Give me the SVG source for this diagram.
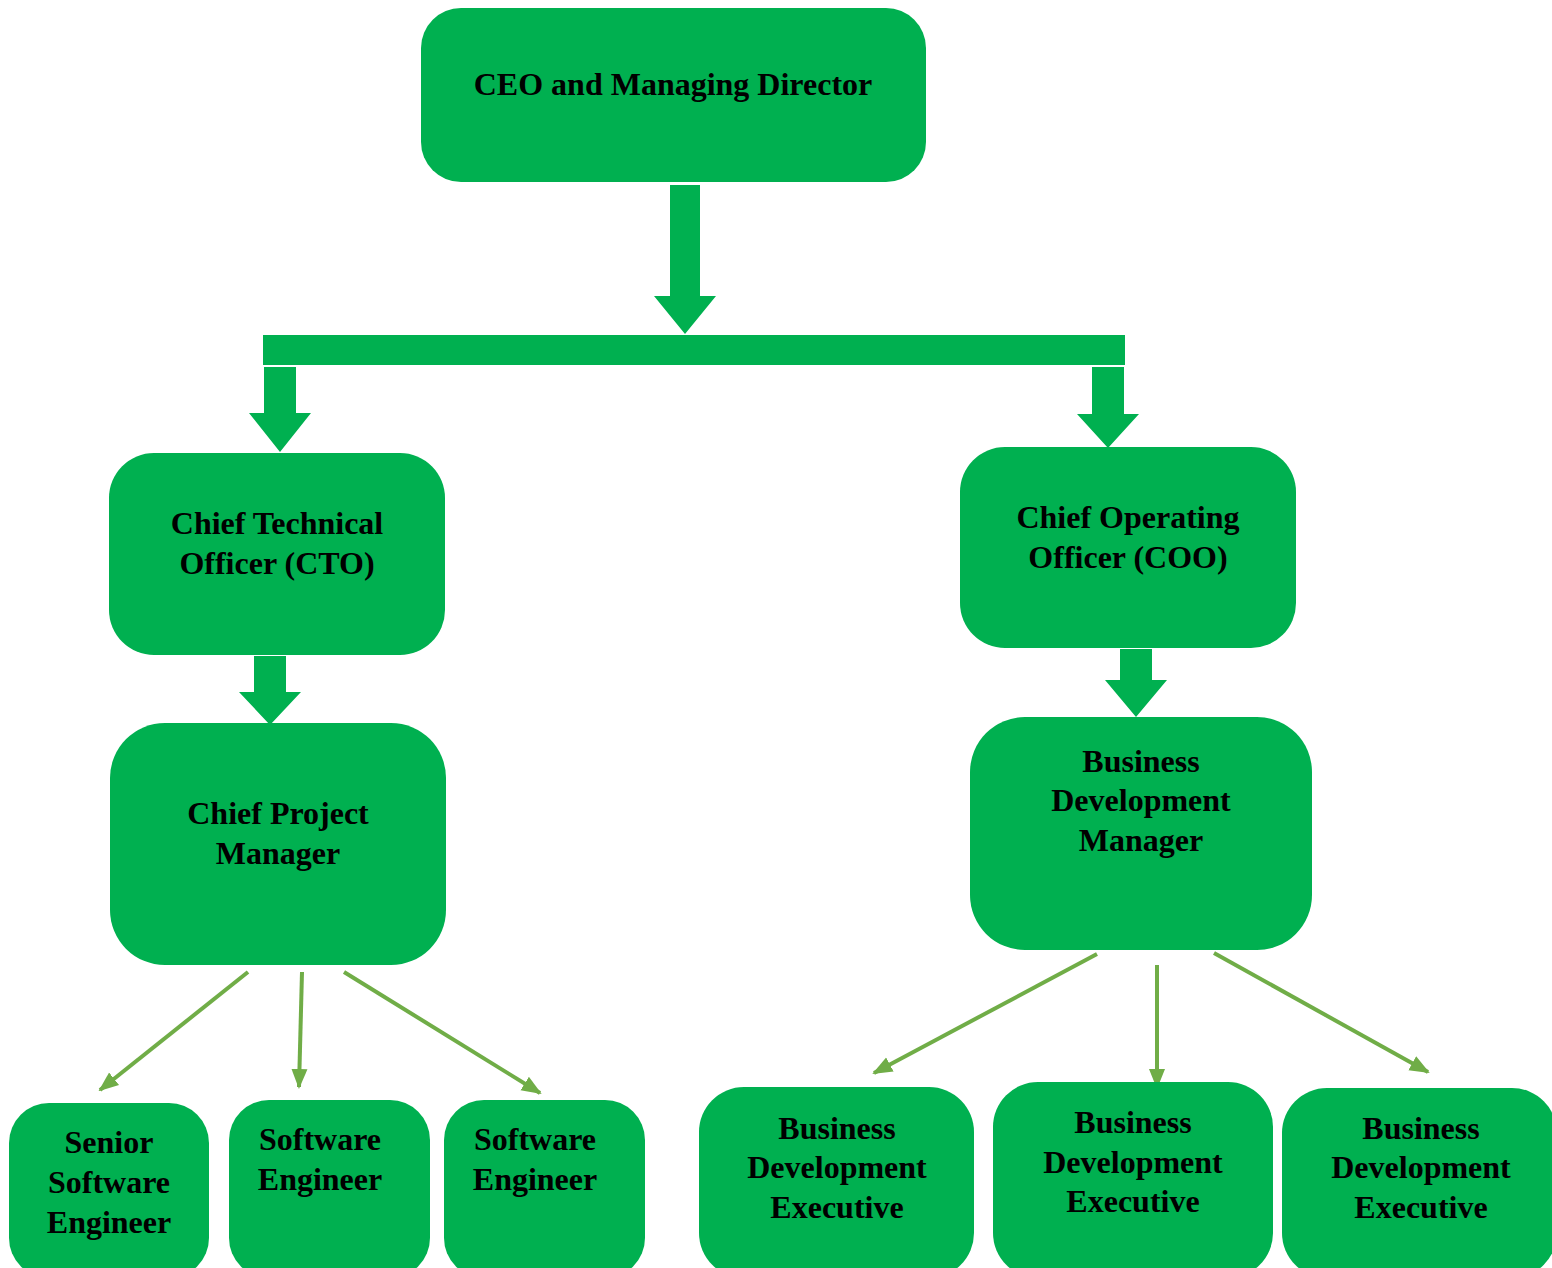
<svg xmlns="http://www.w3.org/2000/svg" width="1552" height="1268" viewBox="0 0 1552 1268">
<style>
.box{fill:#00B050}
.blk{fill:#00B050}
.t{font-family:"Liberation Serif","Times New Roman",serif;font-weight:bold;font-size:32px;fill:#000;text-anchor:middle}
.ln{stroke:#70AD47;stroke-width:4;fill:none;marker-end:url(#ah)}
</style>
<defs>
<marker id="ah" markerUnits="userSpaceOnUse" markerWidth="20" markerHeight="20" viewBox="0 0 20 20" refX="18" refY="10" orient="auto">
<path d="M0,2 L20,10 L0,18 Z" fill="#70AD47"/>
</marker>
</defs>
<rect width="1552" height="1268" fill="#fff"/>
<g id="connectors">
<path class="blk" d="M670,185 H700 V296 H716 L685,334 L654,296 H670 Z"/>
<rect class="blk" x="263" y="335" width="862" height="30"/>
<path class="blk" d="M264,367 H296 V413 H311 L280,452 L249,413 H264 Z"/>
<path class="blk" d="M1092,367 H1124 V414 H1139 L1108,448 L1077,414 H1092 Z"/>
<path class="blk" d="M254,656 H286 V692 H301 L270,725 L239,692 H254 Z"/>
<path class="blk" d="M1120,649 H1152 V680 H1167 L1136,717 L1105,680 H1120 Z"/>
<line class="ln" x1="248" y1="972" x2="100" y2="1090"/>
<line class="ln" x1="302" y1="972" x2="299" y2="1087"/>
<line class="ln" x1="344" y1="972" x2="540" y2="1093"/>
<line class="ln" x1="1097" y1="954" x2="874" y2="1073"/>
<line class="ln" x1="1157" y1="965" x2="1157" y2="1087"/>
<line class="ln" x1="1214" y1="953" x2="1428" y2="1072"/>
</g>
<g id="ceo">
<rect class="box" x="421" y="8" width="505" height="174" rx="40"/>
<text class="t" x="673" y="95">CEO and Managing Director</text>
</g>
<g id="cto">
<rect class="box" x="109" y="453" width="336" height="202" rx="45"/>
<text class="t" x="277" y="534">Chief Technical</text>
<text class="t" x="277" y="574">Officer (CTO)</text>
</g>
<g id="coo">
<rect class="box" x="960" y="447" width="336" height="201" rx="45"/>
<text class="t" x="1128" y="528">Chief Operating</text>
<text class="t" x="1128" y="568">Officer (COO)</text>
</g>
<g id="cpm">
<rect class="box" x="110" y="723" width="336" height="242" rx="55"/>
<text class="t" x="278" y="824">Chief Project</text>
<text class="t" x="278" y="864">Manager</text>
</g>
<g id="bdm">
<rect class="box" x="970" y="717" width="342" height="233" rx="55"/>
<text class="t" x="1141" y="772">Business</text>
<text class="t" x="1141" y="811">Development</text>
<text class="t" x="1141" y="851">Manager</text>
</g>
<g id="sse">
<rect class="box" x="9" y="1103" width="200" height="175" rx="40"/>
<text class="t" x="109" y="1153">Senior</text>
<text class="t" x="109" y="1193">Software</text>
<text class="t" x="109" y="1233">Engineer</text>
</g>
<g id="se1">
<rect class="box" x="229" y="1100" width="201" height="178" rx="40"/>
<text class="t" x="320" y="1150">Software</text>
<text class="t" x="320" y="1190">Engineer</text>
</g>
<g id="se2">
<rect class="box" x="444" y="1100" width="201" height="178" rx="40"/>
<text class="t" x="535" y="1150">Software</text>
<text class="t" x="535" y="1190">Engineer</text>
</g>
<g id="bde1">
<rect class="box" x="699" y="1087" width="275" height="191" rx="45"/>
<text class="t" x="837" y="1139">Business</text>
<text class="t" x="837" y="1178">Development</text>
<text class="t" x="837" y="1218">Executive</text>
</g>
<g id="bde2">
<rect class="box" x="993" y="1082" width="280" height="196" rx="45"/>
<text class="t" x="1133" y="1133">Business</text>
<text class="t" x="1133" y="1173">Development</text>
<text class="t" x="1133" y="1212">Executive</text>
</g>
<g id="bde3">
<rect class="box" x="1282" y="1088" width="275" height="190" rx="45"/>
<text class="t" x="1421" y="1139">Business</text>
<text class="t" x="1421" y="1178">Development</text>
<text class="t" x="1421" y="1218">Executive</text>
</g>
</svg>
